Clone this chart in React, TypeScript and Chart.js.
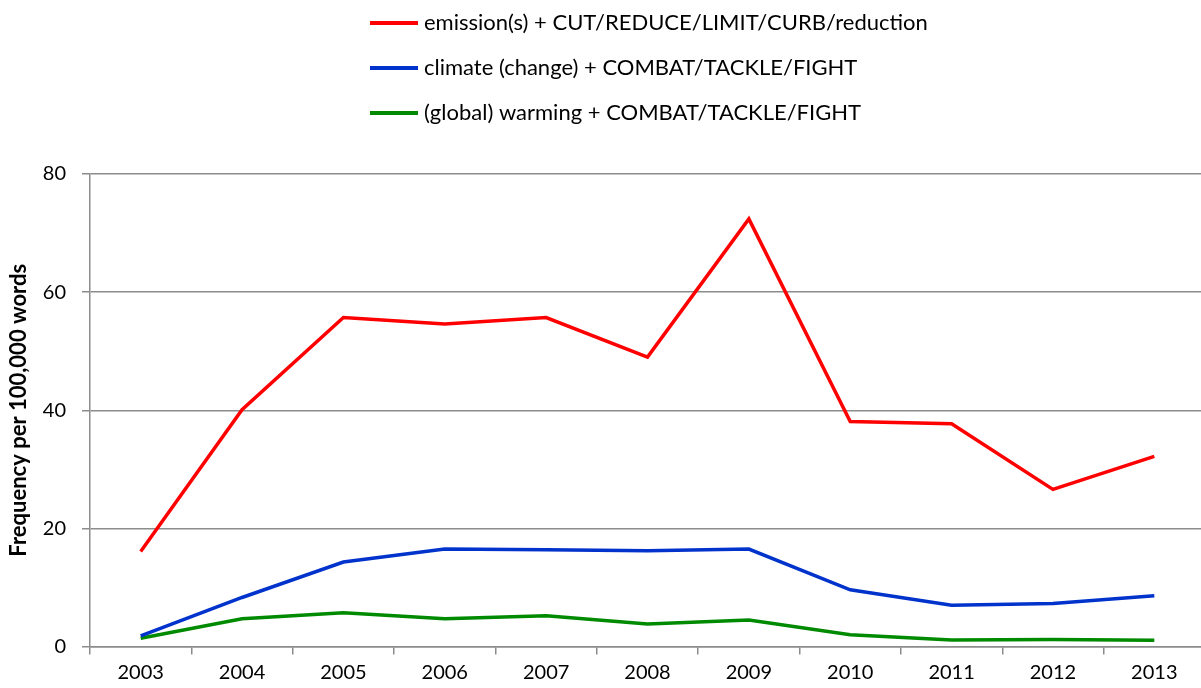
import React, { useEffect, useRef } from "react";
import { Chart, registerables } from "chart.js";

Chart.register(...registerables);

const years = ["2003", "2004", "2005", "2006", "2007", "2008", "2009", "2010", "2011", "2012", "2013"];
const emissionSeries = [16.1, 40.1, 55.7, 54.6, 55.7, 49.0, 72.4, 38.1, 37.7, 26.6, 32.2];
const climateSeries = [1.8, 8.3, 14.3, 16.5, 16.4, 16.2, 16.5, 9.6, 7.0, 7.3, 8.6];
const warmingSeries = [1.4, 4.7, 5.7, 4.7, 5.2, 3.8, 4.5, 2.0, 1.1, 1.2, 1.05];
const seriesLabels = [
  "emission(s) + CUT/REDUCE/LIMIT/CURB/reduction",
  "climate (change) + COMBAT/TACKLE/FIGHT",
  "(global) warming + COMBAT/TACKLE/FIGHT",
];
const seriesColors = ["#ff0000", "#0033cc", "#008a00"];
const yTitle = "Frequency per 100,000 words";

const FONT = "Lato, 'Open Sans', sans-serif";

const legendPlugin = {
  id: "stackedLegend",
  afterDraw(chart: any) {
    const ctx = chart.ctx;
    ctx.save();
    chart.data.datasets.forEach((ds: any, i: number) => {
      const y = 23 + 45 * i;
      ctx.strokeStyle = ds.borderColor;
      ctx.lineWidth = 4;
      ctx.beginPath();
      ctx.moveTo(370, y);
      ctx.lineTo(418, y);
      ctx.stroke();
      ctx.fillStyle = "#000";
      ctx.font = `22px ${FONT}`;
      ctx.textBaseline = "middle";
      ctx.textAlign = "left";
      ctx.fillText(ds.label, 424, y);
    });
    ctx.restore();
  },
};

export default function App() {
  const ref = useRef<HTMLCanvasElement | null>(null);
  useEffect(() => {
    if (!ref.current) return;
    const series = [emissionSeries, climateSeries, warmingSeries];
    const chart = new Chart(ref.current, {
      type: "line",
      data: {
        labels: years,
        datasets: series.map((d, i) => ({
          label: seriesLabels[i],
          data: d,
          borderColor: seriesColors[i],
          backgroundColor: seriesColors[i],
          borderWidth: 3.5,
          pointRadius: 0,
          tension: 0,
          fill: false,
        })),
      },
      options: {
        animation: false,
        responsive: false,
        maintainAspectRatio: false,
        layout: { padding: { top: 174, right: 1, left: 0, bottom: 0 } },
        plugins: {
          legend: { display: false },
          tooltip: { enabled: false },
        },
        scales: {
          x: {
            offset: true,
            grid: {
              offset: true,
              drawOnChartArea: false,
              drawTicks: true,
              tickLength: 8,
              color: "#8c8c8c",
              lineWidth: 1.5,
            },
            border: { color: "#8c8c8c", width: 1.5 },
            ticks: {
              color: "#000",
              font: { family: FONT, size: 20 },
              padding: 6,
              maxRotation: 0,
            },
            afterFit(scale: any) {
              scale.height = 41.5;
            },
          },
          y: {
            min: 0,
            max: 80,
            ticks: {
              stepSize: 20,
              color: "#000",
              font: { family: FONT, size: 20 },
              padding: 16,
            },
            grid: {
              color: "#8c8c8c",
              lineWidth: 1.5,
              tickLength: 8,
            },
            border: { color: "#8c8c8c", width: 1.5 },
            title: {
              display: true,
              text: yTitle,
              color: "#000",
              font: { family: FONT, size: 22, weight: "bold" },
              padding: { top: 6, bottom: 0 },
            },
            afterFit(scale: any) {
              scale.width = 90;
            },
          },
        },
      },
      plugins: [legendPlugin],
    });
    return () => chart.destroy();
  }, []);
  return (
    <div style={{ position: "fixed", left: 0, top: 0, width: 1201, height: 688, overflow: "hidden", background: "#fff" }}>
      <canvas ref={ref} width={1206} height={688} style={{ width: 1206, height: 688, display: "block" }} />
    </div>
  );
}
